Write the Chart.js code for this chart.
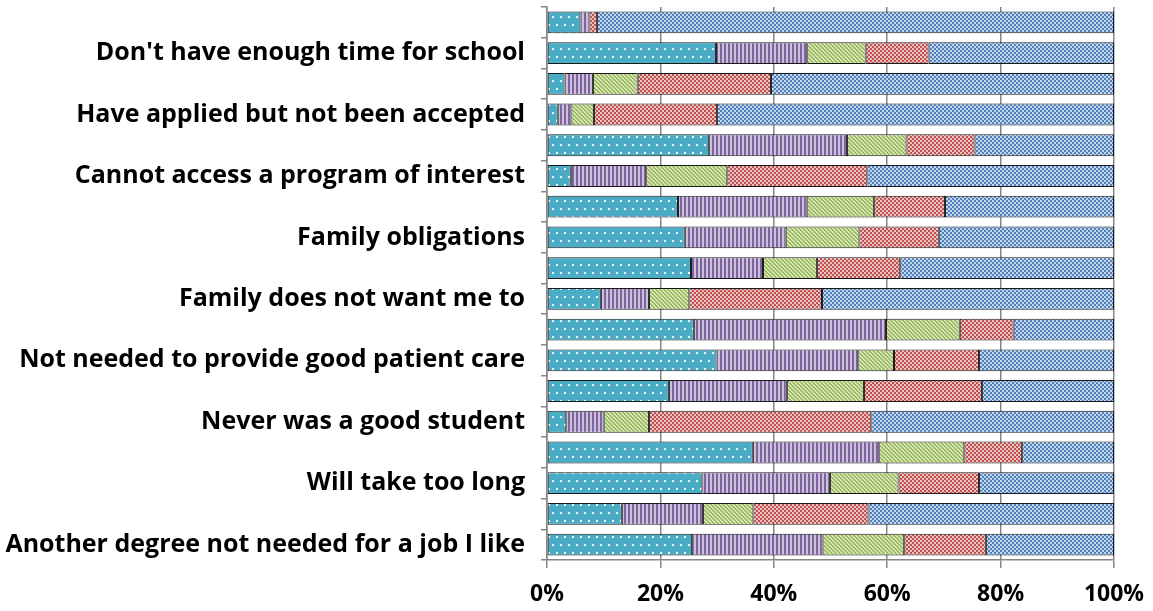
<!DOCTYPE html>
<html>
<head>
<meta charset="utf-8">
<script src="https://cdn.jsdelivr.net/npm/chart.js@4"></script>
<style>
html,body{margin:0;padding:0;background:#fff;}
#wrap{width:1153px;height:611px;position:relative;}
</style>
</head>
<body>
<div id="wrap"><canvas id="c" width="1153" height="611"></canvas></div>
<script>
const categories = [
  "", "Don't have enough time for school",
  "", "Have applied but not been accepted",
  "", "Cannot access a program of interest",
  "", "Family obligations",
  "", "Family does not want me to",
  "", "Not needed to provide good patient care",
  "", "Never was a good student",
  "", "Will take too long",
  "", "Another degree not needed for a job I like"
];
const seriesA = [5.9, 29.8, 3.1, 1.9, 28.6, 4.2, 23.1, 24.3, 25.4, 9.5, 25.9, 29.9, 21.5, 3.4, 36.3, 27.4, 13.2, 25.6];
const seriesB = [1.6, 16.1, 5.0, 2.4, 24.3, 13.3, 22.7, 17.8, 12.7, 8.5, 33.9, 25.0, 20.8, 6.6, 22.3, 22.5, 14.3, 23.0];
const seriesC = [0.0, 10.3, 7.9, 4.0, 10.5, 14.3, 11.9, 13.0, 9.5, 7.1, 13.0, 6.3, 13.6, 8.0, 15.0, 12.1, 8.9, 14.4];
const seriesD = [1.3, 11.1, 23.5, 21.7, 12.0, 24.7, 12.5, 14.0, 14.7, 23.4, 9.5, 15.0, 20.8, 39.2, 10.2, 14.2, 20.3, 14.4];
const seriesE = [91.2, 32.7, 60.5, 70.0, 24.6, 43.5, 29.8, 30.9, 37.7, 51.5, 17.7, 23.8, 23.3, 42.8, 16.2, 23.8, 43.3, 22.6];
const xTicks = [0, 20, 40, 60, 80, 100];

const canvas = document.getElementById('c');
const ctx = canvas.getContext('2d');

function makePattern(w, h, bg, fg, pixels) {
  const t = document.createElement('canvas');
  t.width = w; t.height = h;
  const c = t.getContext('2d');
  c.fillStyle = bg; c.fillRect(0, 0, w, h);
  c.fillStyle = fg;
  for (let y = 0; y < h; y++) for (let x = 0; x < w; x++) if (pixels(x, y)) c.fillRect(x, y, 1, 1);
  return ctx.createPattern(t, 'repeat');
}
const checker = (x, y) => ((Math.floor(x / 2) + Math.floor(y / 2)) % 2) === 0;
const patA = makePattern(8, 16, '#4BACC6', '#F4FAFC', (x, y) => (x < 2 && y < 2) || (x >= 4 && x < 6 && y >= 8 && y < 10));
const patB = makePattern(4, 1, '#8064A2', '#CCC1DA', (x, y) => x >= 2);
const patC = makePattern(4, 4, '#9BBB59', '#D7E4BD', (x, y) => ((x - y + 8) % 4) < 2);
const patD = makePattern(4, 4, '#C0504D', '#EBC3C2', checker);
const patE = makePattern(4, 4, '#4F81BD', '#C5D6EC', checker);

function ds(label, data, pat) {
  return {
    label, data, backgroundColor: pat,
    borderColor: '#1a1a1a', borderWidth: 1, borderSkipped: false,
    barPercentage: 0.71, categoryPercentage: 1.0
  };
}

const FONT = 'Open Sans';
new Chart(ctx, {
  type: 'bar',
  data: {
    labels: categories,
    datasets: [
      ds('A', seriesA, patA),
      ds('B', seriesB, patB),
      ds('C', seriesC, patC),
      ds('D', seriesD, patD),
      ds('E', seriesE, patE)
    ]
  },
  options: {
    indexAxis: 'y',
    responsive: false,
    animation: false,
    devicePixelRatio: 1,
    layout: { padding: { top: 7, right: 39, bottom: 0, left: 4 } },
    plugins: { legend: { display: false }, tooltip: { enabled: false } },
    scales: {
      x: {
        stacked: true, min: 0, max: 100,
        afterBuildTicks: (s) => { s.ticks = xTicks.map(v => ({ value: v })); },
        afterFit: (s) => { s.height = 51; s.paddingLeft = 0; s.paddingRight = 0; },
        ticks: { callback: (v) => v + '%', color: '#000', font: { family: FONT, weight: 'bold', size: 23 }, padding: 13, maxRotation: 0 },
        grid: { color: '#868686', lineWidth: 1.5, tickLength: 8, drawTicks: true },
        border: { color: '#868686', width: 1.5 }
      },
      y: {
        stacked: true,
        afterFit: (s) => { s.width = 543; s.paddingTop = 0; s.paddingBottom = 0; },
        ticks: { color: '#000', font: { family: FONT, weight: 'bold', size: 25 }, padding: 16, autoSkip: false },
        grid: { offset: true, drawOnChartArea: false, drawTicks: true, tickLength: 6, color: '#868686', lineWidth: 1.5 },
        border: { color: '#868686', width: 1.5 }
      }
    }
  }
});
</script>
</body>
</html>
